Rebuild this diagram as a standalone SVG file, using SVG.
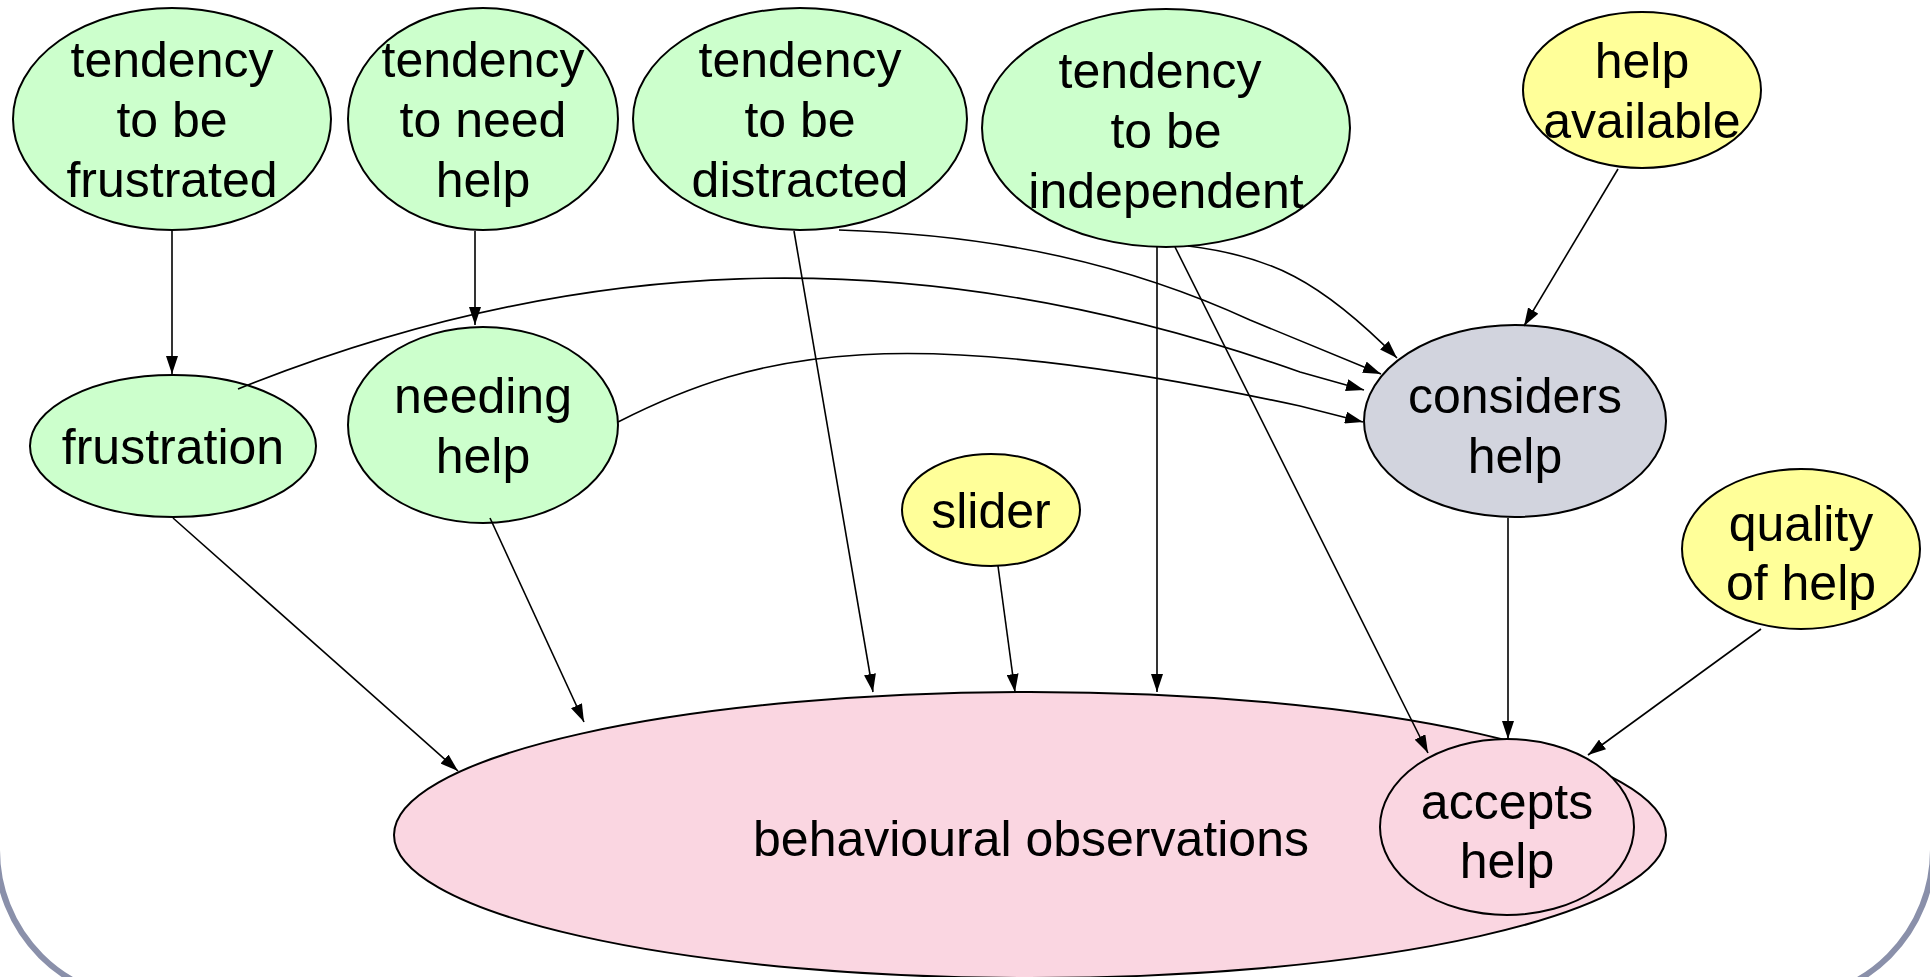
<svg xmlns="http://www.w3.org/2000/svg" width="1930" height="977" viewBox="0 0 1930 977">
  <style>
    .node { stroke: #000; stroke-width: 2; }
    .green { fill: #ccffcc; }
    .yellow { fill: #ffff99; }
    .grey { fill: #d2d4de; }
    .pink { fill: #fad6e1; }
    .lbl { font-family: "Liberation Sans", Arial, sans-serif; font-size: 50px; fill: #000; text-anchor: middle; }
    .edge { fill: none; stroke: #000; stroke-width: 1.6; marker-end: url(#arr); }
  </style>
  <defs>
    <marker id="arr" viewBox="0 0 18 12" refX="18" refY="6" markerWidth="18" markerHeight="12" markerUnits="userSpaceOnUse" orient="auto">
      <path d="M0,0 L18,6 L0,12 z" fill="#000"/>
    </marker>
  </defs>

  <!-- slide frame -->
  <rect x="-3" y="-300" width="1936" height="1300" rx="150" ry="150" fill="#fff" stroke="#8a90aa" stroke-width="6"/>

  <g id="tendency-frustrated">
    <ellipse class="node green" cx="172" cy="119" rx="159" ry="111"/>
    <text class="lbl" x="172" y="77">tendency</text>
    <text class="lbl" x="172" y="137">to be</text>
    <text class="lbl" x="172" y="197">frustrated</text>
  </g>
  <g id="tendency-need-help">
    <ellipse class="node green" cx="483" cy="119" rx="135" ry="111"/>
    <text class="lbl" x="483" y="77">tendency</text>
    <text class="lbl" x="483" y="137">to need</text>
    <text class="lbl" x="483" y="197">help</text>
  </g>
  <g id="tendency-distracted">
    <ellipse class="node green" cx="800" cy="119" rx="167" ry="111"/>
    <text class="lbl" x="800" y="77">tendency</text>
    <text class="lbl" x="800" y="137">to be</text>
    <text class="lbl" x="800" y="197">distracted</text>
  </g>
  <g id="tendency-independent">
    <ellipse class="node green" cx="1166" cy="128" rx="184" ry="119"/>
    <text class="lbl" x="1160" y="88">tendency</text>
    <text class="lbl" x="1166" y="148">to be</text>
    <text class="lbl" x="1166" y="208">independent</text>
  </g>
  <g id="help-available">
    <ellipse class="node yellow" cx="1642" cy="90" rx="119" ry="78"/>
    <text class="lbl" x="1642" y="78">help</text>
    <text class="lbl" x="1642" y="138">available</text>
  </g>
  <g id="frustration">
    <ellipse class="node green" cx="173" cy="446" rx="143" ry="71"/>
    <text class="lbl" x="173" y="464">frustration</text>
  </g>
  <g id="needing-help">
    <ellipse class="node green" cx="483" cy="425" rx="135" ry="98"/>
    <text class="lbl" x="483" y="413">needing</text>
    <text class="lbl" x="483" y="473">help</text>
  </g>
  <g id="considers-help">
    <ellipse class="node grey" cx="1515" cy="421" rx="151" ry="96"/>
    <text class="lbl" x="1515" y="413">considers</text>
    <text class="lbl" x="1515" y="473">help</text>
  </g>
  <g id="slider">
    <ellipse class="node yellow" cx="991" cy="510" rx="89" ry="56"/>
    <text class="lbl" x="991" y="528">slider</text>
  </g>
  <g id="quality-of-help">
    <ellipse class="node yellow" cx="1801" cy="549" rx="119" ry="80"/>
    <text class="lbl" x="1801" y="541">quality</text>
    <text class="lbl" x="1801" y="600">of help</text>
  </g>
  <g id="behavioural-observations">
    <ellipse class="node pink" cx="1030" cy="835" rx="636" ry="143"/>
    <text class="lbl" x="1031" y="856">behavioural observations</text>
  </g>
  <g id="accepts-help">
    <ellipse class="node pink" cx="1507" cy="827" rx="127" ry="88"/>
    <text class="lbl" x="1507" y="819">accepts</text>
    <text class="lbl" x="1507" y="878">help</text>
  </g>

  <g id="connectors">
    <path class="edge" d="M172,231 L172,374"/>
    <path class="edge" d="M475,231 L475,325"/>
    <path class="edge" d="M238,389 C560,260 900,230 1300,372 L1364,390"/>
    <path class="edge" d="M618,422 C760,350 900,320 1300,406 L1363,422"/>
    <path class="edge" d="M839,230 C1000,235 1130,265 1250,320 L1381,374"/>
    <path class="edge" d="M1188,246 C1270,256 1320,280 1397,358"/>
    <path class="edge" d="M1157,247 L1157,692"/>
    <path class="edge" d="M1175,247 L1428,753"/>
    <path class="edge" d="M794,231 L873,692"/>
    <path class="edge" d="M1618,169 L1524,326"/>
    <path class="edge" d="M173,518 L458,771"/>
    <path class="edge" d="M490,518 L584,722"/>
    <path class="edge" d="M998,566 L1015,692"/>
    <path class="edge" d="M1508,518 L1508,739"/>
    <path class="edge" d="M1761,629 L1588,755"/>
  </g>
</svg>
